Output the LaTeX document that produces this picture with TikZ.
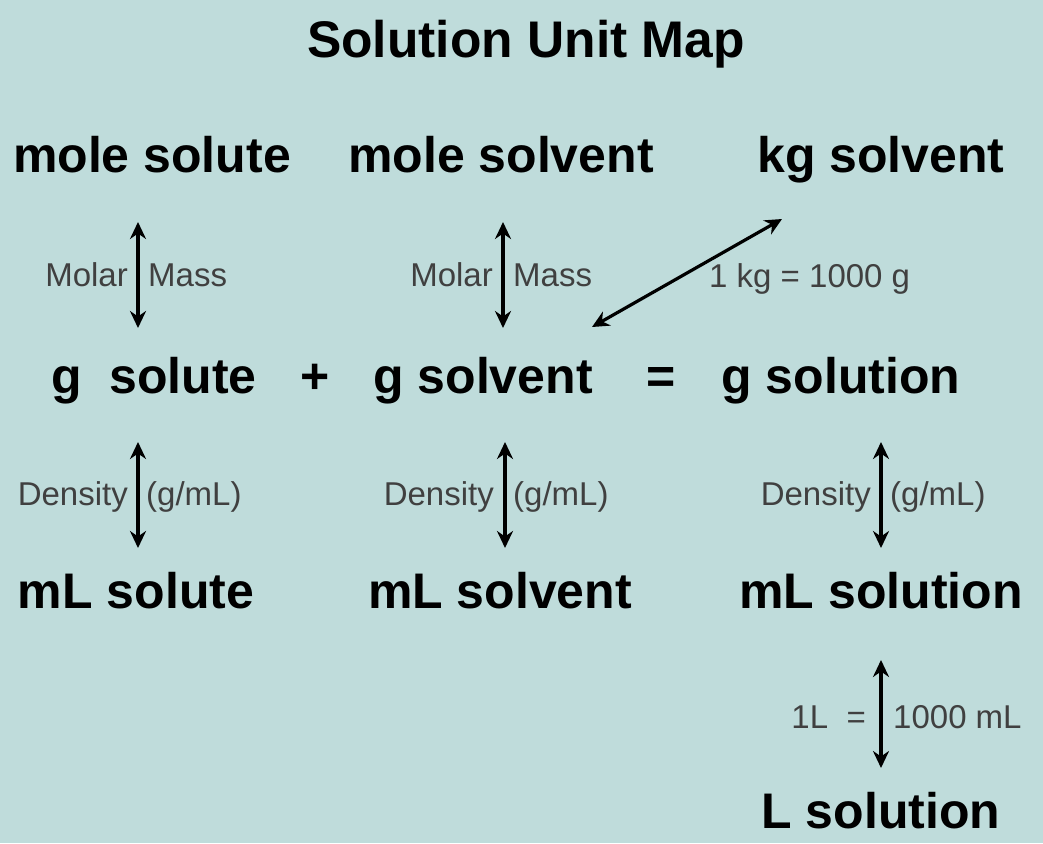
\documentclass[tikz,border=0pt]{standalone}
\usepackage{fontspec}
\setmainfont{Liberation Sans}
\usetikzlibrary{arrows.meta}
\definecolor{mapbg}{HTML}{BFDCDB}
\definecolor{labgray}{HTML}{404040}
\begin{document}
\begin{tikzpicture}[x=1pt, y=-1pt,
		unit/.style = {anchor=base, inner sep=0pt, font=\fontsize{50}{60}\selectfont\bfseries, text=black},
		conv/.style = {inner sep=0pt, font=\fontsize{33}{38}\selectfont, text=labgray},
		link/.style = {{Stealth[length=17pt,width=16pt]}-{Stealth[length=17pt,width=16pt]}, line width=3.2pt}]
		\fill[mapbg] (0,0) rectangle (1043,843);
		\useasboundingbox (0,0) rectangle (1043,843);
		\node[unit, font=\fontsize{51.5}{60}\selectfont\bfseries] (title) at (526,57) {Solution Unit Map};
		% top row
		\node[unit] (ms) at (152,172) {mole solute};
		\node[unit] (mv) at (501,172) {mole solvent};
		\node[unit] (kg) at (881,172) {kg solvent};
		% grams
		\node[unit] (gs) at (154,393) {g\ \ solute};
		\node[unit] (plus) at (315,393) {+};
		\node[unit] (gv) at (483,393) {g solvent};
		\node[unit] (eq) at (661,393) {=};
		\node[unit] (gn) at (841,393) {g solution};
		% volumes
		\node[unit] (ls) at (136,608) {mL solute};
		\node[unit] (lv) at (500,608) {mL solvent};
		\node[unit] (ln) at (881,608) {mL solution};
		\node[unit] (lL) at (881,828) {L solution};
		% arrow ends
		\coordinate (a1) at (138,222); \coordinate (b1) at (138,328);
		\coordinate (a2) at (503,222); \coordinate (b2) at (503,328);
		\coordinate (a3) at (782,219); \coordinate (b3) at (592,327);
		\coordinate (a4) at (138,442); \coordinate (b4) at (138,548);
		\coordinate (a5) at (505,442); \coordinate (b5) at (505,548);
		\coordinate (a6) at (881,442); \coordinate (b6) at (881,548);
		\coordinate (a7) at (881,660); \coordinate (b7) at (881,768);
		\draw[link] (a1) -- (b1);
		\draw[link] (a2) -- (b2);
		\draw[link] (a3) -- (b3);
		\draw[link] (a4) -- (b4);
		\draw[link] (a5) -- (b5);
		\draw[link] (a6) -- (b6);
		\draw[link] (a7) -- (b7);
		% labels
		\node[conv, anchor=base east] (m1) at (128,286) {Molar};
		\node[conv, anchor=base west] (n1) at (148,286) {Mass};
		\node[conv, anchor=base east] (m2) at (493,286) {Molar};
		\node[conv, anchor=base west] (n2) at (513,286) {Mass};
		\node[conv, anchor=base west] (k1) at (709,287) {1 kg = 1000 g};
		\node[conv, anchor=base east] (d1) at (128,505) {Density};
		\node[conv, anchor=base west] (e1) at (146,505) {(g/mL)};
		\node[conv, anchor=base east] (d2) at (494,505) {Density};
		\node[conv, anchor=base west] (e2) at (513,505) {(g/mL)};
		\node[conv, anchor=base east] (d3) at (871,505) {Density};
		\node[conv, anchor=base west] (e3) at (890,505) {(g/mL)};
		\node[conv, anchor=base east] (l1) at (866,728) {1L\ \ =};
		\node[conv, anchor=base west] (l2) at (893,728) {1000 mL};
	\end{tikzpicture}
\end{document}
